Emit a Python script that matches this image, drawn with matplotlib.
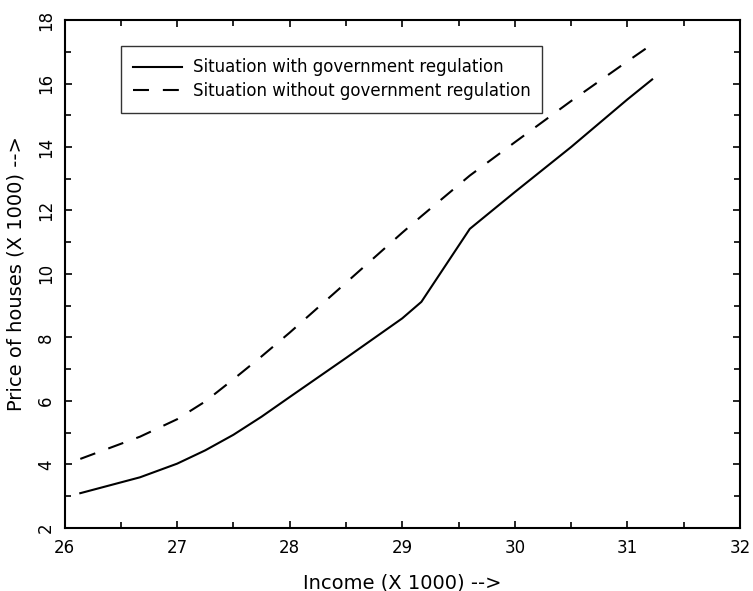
import matplotlib
matplotlib.use("Agg")
import matplotlib.pyplot as plt
from matplotlib.ticker import MultipleLocator

plt.rcParams['lines.scale_dashes'] = False
plt.rcParams['font.family'] = ['DejaVu Sans']

income = [26.14, 26.67, 27.0, 27.25, 27.5, 27.75, 28.0, 28.5, 29.0, 29.17, 29.6, 30.0, 30.5, 31.0, 31.22]
price_with_reg = [3.09, 3.59, 4.02, 4.44, 4.93, 5.5, 6.12, 7.35, 8.6, 9.12, 11.42, 12.58, 14.0, 15.5, 16.13]
price_without_reg = [4.17, 4.87, 5.42, 5.98, 6.68, 7.4, 8.15, 9.72, 11.3, 11.82, 13.1, 14.15, 15.45, 16.7, 17.24]

label_with = "Situation with government regulation"
label_without = "Situation without government regulation"
xlabel = "Income (X 1000) -->"
ylabel = "Price of houses (X 1000) -->"

fig = plt.figure(figsize=(7.53, 5.91), dpi=100)
ax = fig.add_axes([0.0857, 0.107, 0.897, 0.859])

ax.plot(income, price_with_reg, color='black', lw=1.5, label=label_with)
ax.plot(income, price_without_reg, color='black', lw=1.5, dashes=(11.5, 10.0), label=label_without)

ax.set_xlim(26, 32)
ax.set_ylim(2, 18)
ax.xaxis.set_major_locator(MultipleLocator(1))
ax.xaxis.set_minor_locator(MultipleLocator(0.5))
ax.yaxis.set_major_locator(MultipleLocator(2))
ax.yaxis.set_minor_locator(MultipleLocator(1))
ax.tick_params(which='both', direction='in', top=True, right=True, width=1.2, labelsize=12, color='black')
ax.tick_params(which='major', length=5)
ax.tick_params(which='minor', length=4)
ax.tick_params(axis='x', pad=8)
ax.tick_params(axis='y', pad=7)
for lab in ax.get_yticklabels():
    lab.set_rotation(90)
    lab.set_va('center')
for sp in ax.spines.values():
    sp.set_linewidth(1.5)

ax.set_xlabel(xlabel, fontsize=14, labelpad=12)
ax.set_ylabel(ylabel, fontsize=14, labelpad=8)

leg = ax.legend(loc='upper left', bbox_to_anchor=(0.0836, 0.812, 0.624, 0.137), mode='expand',
                fontsize=12, frameon=True, fancybox=False, handlelength=2.9, handletextpad=0.65,
                borderaxespad=0, borderpad=0.75, labelspacing=0.35)
leg.get_frame().set_edgecolor('black')
leg.get_frame().set_linewidth(1.0)

fig.savefig("out.png", dpi=100)
